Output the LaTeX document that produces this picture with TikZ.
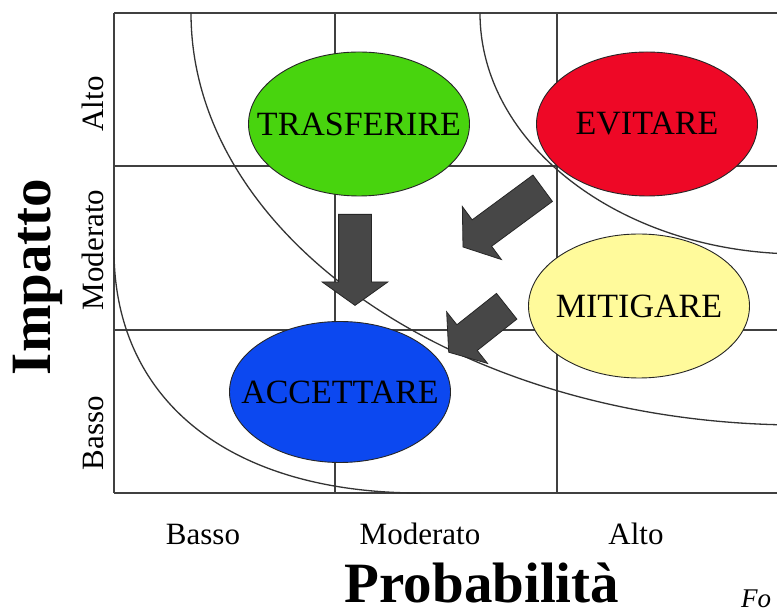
\documentclass[tikz,border=0pt]{standalone}
\usepackage{fontspec}
\setmainfont{Liberation Serif}
\usetikzlibrary{shapes.geometric,shapes.arrows}
\definecolor{cTrasf}{RGB}{72,212,14}
\definecolor{cEvit}{RGB}{238,8,38}
\definecolor{cMitig}{RGB}{255,250,155}
\definecolor{cAccett}{RGB}{12,72,240}
\newcommand{\inell}[1]{\makebox[0pt]{#1}}
\tikzset{
  gridline/.style={draw=black!75, line width=1.4pt},
  isorisk/.style={draw=black!80, line width=1.3pt},
  strat/.style={draw=black!85, ellipse, line width=0.9pt, minimum width=221pt,
    minimum height=144pt, inner sep=0pt, font=\fontsize{34}{34}\selectfont},
  move/.style={single arrow, draw=black!85, fill=black!72, line width=0.8pt,
    inner xsep=0pt, inner ysep=16pt, single arrow head extend=16.5pt,
    single arrow tip angle=109, anchor=tail},
  ticky/.style={rotate=90, anchor=base, font=\fontsize{31}{31}\selectfont},
  tickx/.style={anchor=base, font=\fontsize{31}{31}\selectfont},
  axistitle/.style={anchor=base, inner sep=1pt, font=\fontsize{57}{57}\selectfont\bfseries},
}
\begin{document}
\begin{tikzpicture}[x=1pt, y=1pt]
  \useasboundingbox (0,0) rectangle (777,616);
  \clip (0,0) rectangle (777,616);
  \fill[white] (0,0) rectangle (777,616);
  \foreach \y in {603,450,286,123}
    \draw[gridline] (114,\y) -- (790,\y);
  \foreach \x in {114,335,557}
    \draw[gridline] (\x,603) -- (\x,123);
  \node[strat, fill=cTrasf] (trasferire) at (359,492) {\inell{TRASFERIRE}};
  \node[strat, fill=cEvit] (evitare) at (647,492) {\inell{EVITARE}};
  \node[strat, fill=cMitig] (mitigare) at (639,310) {\inell{MITIGARE}};
  \node[strat, fill=cAccett, minimum height=141pt] (accettare) at (340,224) {\inell{ACCETTARE}};
  \draw[isorisk] (114,366) .. controls (114,215) and (230,123) .. (420,123);
  \draw[isorisk] (191,603) .. controls (191,376) and (465,191) .. (800,191);
  \draw[isorisk] (480,603) .. controls (480,470) and (624,362) .. (800,362);
  \node[move, minimum height=91pt, rotate=-90] (down) at (355,402) {};
  \node[move, minimum height=99pt, rotate=216.4] (diagA) at (543,428) {};
  \node[move, minimum height=74pt, rotate=218.4] (diagB) at (507,310) {};
  \node[ticky] (yAlto) at (103,512) {Alto};
  \node[ticky] (yMod) at (103,366) {Moderato};
  \node[ticky] (yBasso) at (103,183) {Basso};
  \node[tickx] (xBasso) at (203,71) {Basso};
  \node[tickx] (xMod) at (420,71) {Moderato};
  \node[tickx] (xAlto) at (636,71) {Alto};
  \node[axistitle, rotate=90] (impatto) at (50,339) {Impatto};
  \node[axistitle] (prob) at (482,13) {Probabilità};
  \node[anchor=base west, inner sep=1pt, font=\fontsize{27}{27}\selectfont\itshape] (fonte) at (740,8) {Fo};
\end{tikzpicture}
\end{document}
